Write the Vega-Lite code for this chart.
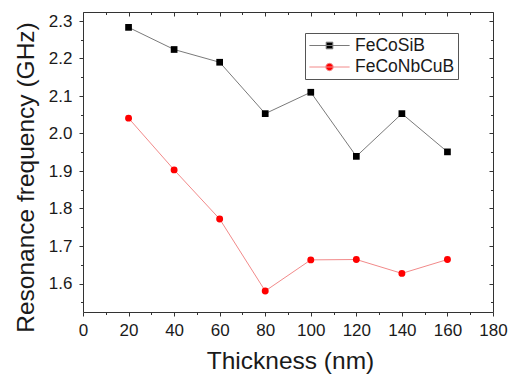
{
  "$schema": "https://vega.github.io/schema/vega-lite/v6.json",
  "autosize": {"type": "none"},
  "padding": {"left": 83, "top": 12, "right": 20, "bottom": 64},
  "width": 410,
  "height": 300,
  "background": "white",
  "config": {
    "font": "Liberation Sans",
    "view": {"stroke": null},
    "axis": {
      "grid": false,
      "domainColor": "#333",
      "tickColor": "#333",
      "labelColor": "#1a1a1a",
      "titleColor": "#1a1a1a",
      "labelFontSize": 17,
      "titleFontSize": 24.5,
      "titleFontWeight": "normal",
      "labelFont": "Liberation Sans",
      "titleFont": "Liberation Sans"
    }
  },
  "data": {
    "values": [
      {"t": 20, "f": 2.283, "s": "FeCoSiB"},
      {"t": 40, "f": 2.224, "s": "FeCoSiB"},
      {"t": 60, "f": 2.190, "s": "FeCoSiB"},
      {"t": 80, "f": 2.053, "s": "FeCoSiB"},
      {"t": 100, "f": 2.110, "s": "FeCoSiB"},
      {"t": 120, "f": 1.939, "s": "FeCoSiB"},
      {"t": 140, "f": 2.053, "s": "FeCoSiB"},
      {"t": 160, "f": 1.951, "s": "FeCoSiB"},
      {"t": 20, "f": 2.041, "s": "FeCoNbCuB"},
      {"t": 40, "f": 1.903, "s": "FeCoNbCuB"},
      {"t": 60, "f": 1.772, "s": "FeCoNbCuB"},
      {"t": 80, "f": 1.580, "s": "FeCoNbCuB"},
      {"t": 100, "f": 1.663, "s": "FeCoNbCuB"},
      {"t": 120, "f": 1.664, "s": "FeCoNbCuB"},
      {"t": 140, "f": 1.627, "s": "FeCoNbCuB"},
      {"t": 160, "f": 1.664, "s": "FeCoNbCuB"}
    ]
  },
  "resolve": {"axis": {"x": "independent", "y": "independent"}},
  "layer": [
    {
      "transform": [{"filter": "datum.s === 'FeCoSiB'"}],
      "mark": {"type": "line", "color": "#7a7a7a", "strokeWidth": 1},
      "encoding": {
        "x": {"field": "t", "type": "quantitative", "scale": {"domain": [0, 180], "nice": false, "zero": false},
          "axis": {"orient": "bottom", "values": [0, 20, 40, 60, 80, 100, 120, 140, 160, 180], "tickSize": 4, "labelPadding": 6, "title": "Thickness (nm)", "titleBaseline": "alphabetic", "titleX": 207, "titleY": 56, "titleAnchor": "middle", "labelFlush": false, "labelOverlap": false}},
        "y": {"field": "f", "type": "quantitative", "scale": {"domain": [1.524, 2.324], "nice": false, "zero": false},
          "axis": {"orient": "left", "values": [1.6, 1.7, 1.8, 1.9, 2.0, 2.1, 2.2, 2.3], "format": ".1f", "tickSize": 4, "labelPadding": 7, "title": "Resonance frequency (GHz)", "titleBaseline": "alphabetic", "titleAngle": 270, "titleX": -50, "titleY": 165, "titleAlign": "center", "labelOverlap": false, "labelFlush": false}}
      }
    },
    {
      "transform": [{"filter": "datum.s === 'FeCoSiB'"}],
      "mark": {"type": "point", "shape": "square", "filled": true, "color": "#000000", "size": 45, "opacity": 1},
      "encoding": {
        "x": {"field": "t", "type": "quantitative",
          "axis": {"orient": "bottom", "values": [10, 30, 50, 70, 90, 110, 130, 150, 170], "tickSize": 2.5, "labels": false, "domain": false, "title": null}},
        "y": {"field": "f", "type": "quantitative",
          "axis": {"orient": "left", "values": [1.55, 1.65, 1.75, 1.85, 1.95, 2.05, 2.15, 2.25], "tickSize": 2.5, "labels": false, "domain": false, "title": null}}
      }
    },
    {
      "transform": [{"filter": "datum.s === 'FeCoNbCuB'"}],
      "mark": {"type": "line", "color": "#f28a8a", "strokeWidth": 1},
      "encoding": {
        "x": {"field": "t", "type": "quantitative",
          "axis": {"orient": "top", "values": [0, 20, 40, 60, 80, 100, 120, 140, 160, 180], "tickSize": -4, "labels": false, "title": null}},
        "y": {"field": "f", "type": "quantitative",
          "axis": {"orient": "right", "values": [1.6, 1.7, 1.8, 1.9, 2.0, 2.1, 2.2, 2.3], "tickSize": -4, "labels": false, "title": null}}
      }
    },
    {
      "transform": [{"filter": "datum.s === 'FeCoNbCuB'"}],
      "mark": {"type": "point", "shape": "circle", "filled": true, "color": "#ff0000", "size": 48, "opacity": 1},
      "encoding": {
        "x": {"field": "t", "type": "quantitative",
          "axis": {"orient": "top", "values": [10, 30, 50, 70, 90, 110, 130, 150, 170], "tickSize": -2.5, "labels": false, "domain": false, "title": null}},
        "y": {"field": "f", "type": "quantitative",
          "axis": {"orient": "right", "values": [1.55, 1.65, 1.75, 1.85, 1.95, 2.05, 2.15, 2.25], "tickSize": -2.5, "labels": false, "domain": false, "title": null}}
      }
    },
    {
      "transform": [{"filter": "datum.t < 0"}],
      "mark": {"type": "point", "filled": true, "strokeWidth": 1, "opacity": 1},
      "encoding": {
        "shape": {"field": "s", "type": "nominal",
          "scale": {"domain": ["FeCoSiB", "FeCoNbCuB"], "range": ["M-2.3,0H2.3M-0.38,-0.38H0.38V0.38H-0.38Z", "M-2.3,0H2.3M-0.42,0A0.42,0.42 0 1,0 0.42,0A0.42,0.42 0 1,0 -0.42,0Z"]},
          "legend": {"title": null, "orient": "none", "legendX": 222, "legendY": 21, "strokeColor": "#555", "fillColor": "white", "padding": 3, "symbolSize": 306, "symbolOffset": 12, "labelOffset": 16, "labelFontSize": 17.5, "labelFont": "Liberation Sans", "labelColor": "#1a1a1a", "rowPadding": 3.5, "symbolStrokeWidth": 1}},
        "fill": {"field": "s", "type": "nominal", "scale": {"domain": ["FeCoSiB", "FeCoNbCuB"], "range": ["#000000", "#ff0000"]}},
        "stroke": {"field": "s", "type": "nominal", "scale": {"domain": ["FeCoSiB", "FeCoNbCuB"], "range": ["#7a7a7a", "#f28a8a"]}}
      }
    }
  ]
}
